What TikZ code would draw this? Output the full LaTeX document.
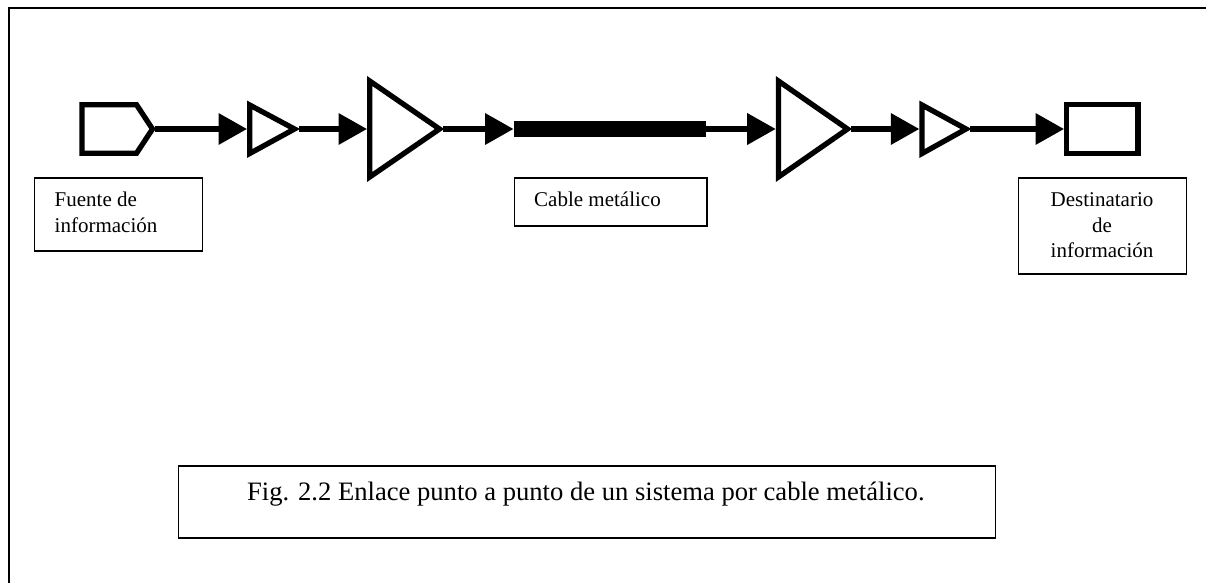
\documentclass[tikz,border=0pt]{standalone}
\usepackage{fontspec}
\setmainfont{Liberation Serif}
\usetikzlibrary{arrows.meta}
\tikzset{
  x=1pt,y=-1pt,
  heavy/.style={draw=black,line width=5.3pt,miter limit=10,fill=white},
  link/.style={draw=black,line width=5.3pt,-{Triangle[length=28.5pt,width=30.5pt]}},
  labelbox/.style={draw=black,line width=1.5pt,inner sep=0pt,anchor=north west},
  labeltext/.style={font=\fontsize{21}{25}\selectfont,inner sep=0pt,text=black},
}
\begin{document}
\begin{tikzpicture}
\useasboundingbox (0,0) rectangle (1206,583);
% frame
\coordinate (ftl) at (9,8.3);
\coordinate (fbl) at (9,583);
\coordinate (ftr) at (1206,8.3);
\draw[line width=2.2pt] (fbl) -- (ftl) -- (ftr);
% anchor points
\coordinate (srcout) at (155,129);
\coordinate (aIin) at (247,129);   \coordinate (aIout) at (299,129);
\coordinate (aIIin) at (367,129);  \coordinate (aIIout) at (443,129);
\coordinate (cableW) at (513.5,129); \coordinate (cableE) at (706,129);
\coordinate (aIIIin) at (775.7,129); \coordinate (aIIIout) at (851,129);
\coordinate (aIVin) at (919.3,129); \coordinate (aIVout) at (970,129);
\coordinate (dstin) at (1064,129);
% connectors
\draw[link] (srcout) -- (aIin);
\draw[link] (aIout) -- (aIIin);
\draw[link] (aIIout) -- (cableW);
\draw[link] (cableE) -- (aIIIin);
\draw[link] (aIIIout) -- (aIVin);
\draw[link] (aIVout) -- (dstin);
% source
\draw[heavy] (82,104.7) -- (136.5,104.7) -- (152.5,129) -- (136.5,153.3) -- (82,153.3) -- cycle;
% amplifiers
\draw[heavy] (249.7,105) -- (294.5,129) -- (249.7,153.5) -- cycle;
\draw[heavy] (369.7,81) -- (439.5,129) -- (369.7,177) -- cycle;
\draw[heavy] (778.4,81) -- (847.5,129) -- (778.4,177) -- cycle;
\draw[heavy] (922,105) -- (966,129) -- (922,153.5) -- cycle;
% cable
\fill[black] (513.7,121) rectangle (706,137.3);
% destination
\draw[heavy] (1066.7,104.7) rectangle (1138,153.8);
% labels
\node[labelbox,minimum width=168pt,minimum height=73pt] (lsrc) at (33.5,177) {};
\node[labeltext,anchor=base west,align=left] (tsrcA) at (54.5,206.5) {Fuente de};
\node[labeltext,anchor=base west,align=left] (tsrcB) at (54.5,232) {información};
\node[labelbox,minimum width=192.5pt,minimum height=48pt] (lcab) at (513.5,177) {};
\node[labeltext,anchor=base west] (tcab) at (534,206.5) {Cable metálico};
\node[labelbox,minimum width=168pt,minimum height=96pt] (ldst) at (1017.5,177) {};
\node[labeltext,anchor=base] (tdstA) at (1102,206.5) {Destinatario};
\node[labeltext,anchor=base] (tdstB) at (1102,232) {de};
\node[labeltext,anchor=base] (tdstC) at (1102,257) {información};
\node[labelbox,minimum width=817pt,minimum height=72pt] (lcap) at (177.7,465) {};
\node[labeltext,anchor=base west,font=\fontsize{26.6}{31}\selectfont] (tcap) at (247,500.7) {Fig. 2.2 Enlace punto a punto de un sistema por cable metálico.};
\end{tikzpicture}
\end{document}
